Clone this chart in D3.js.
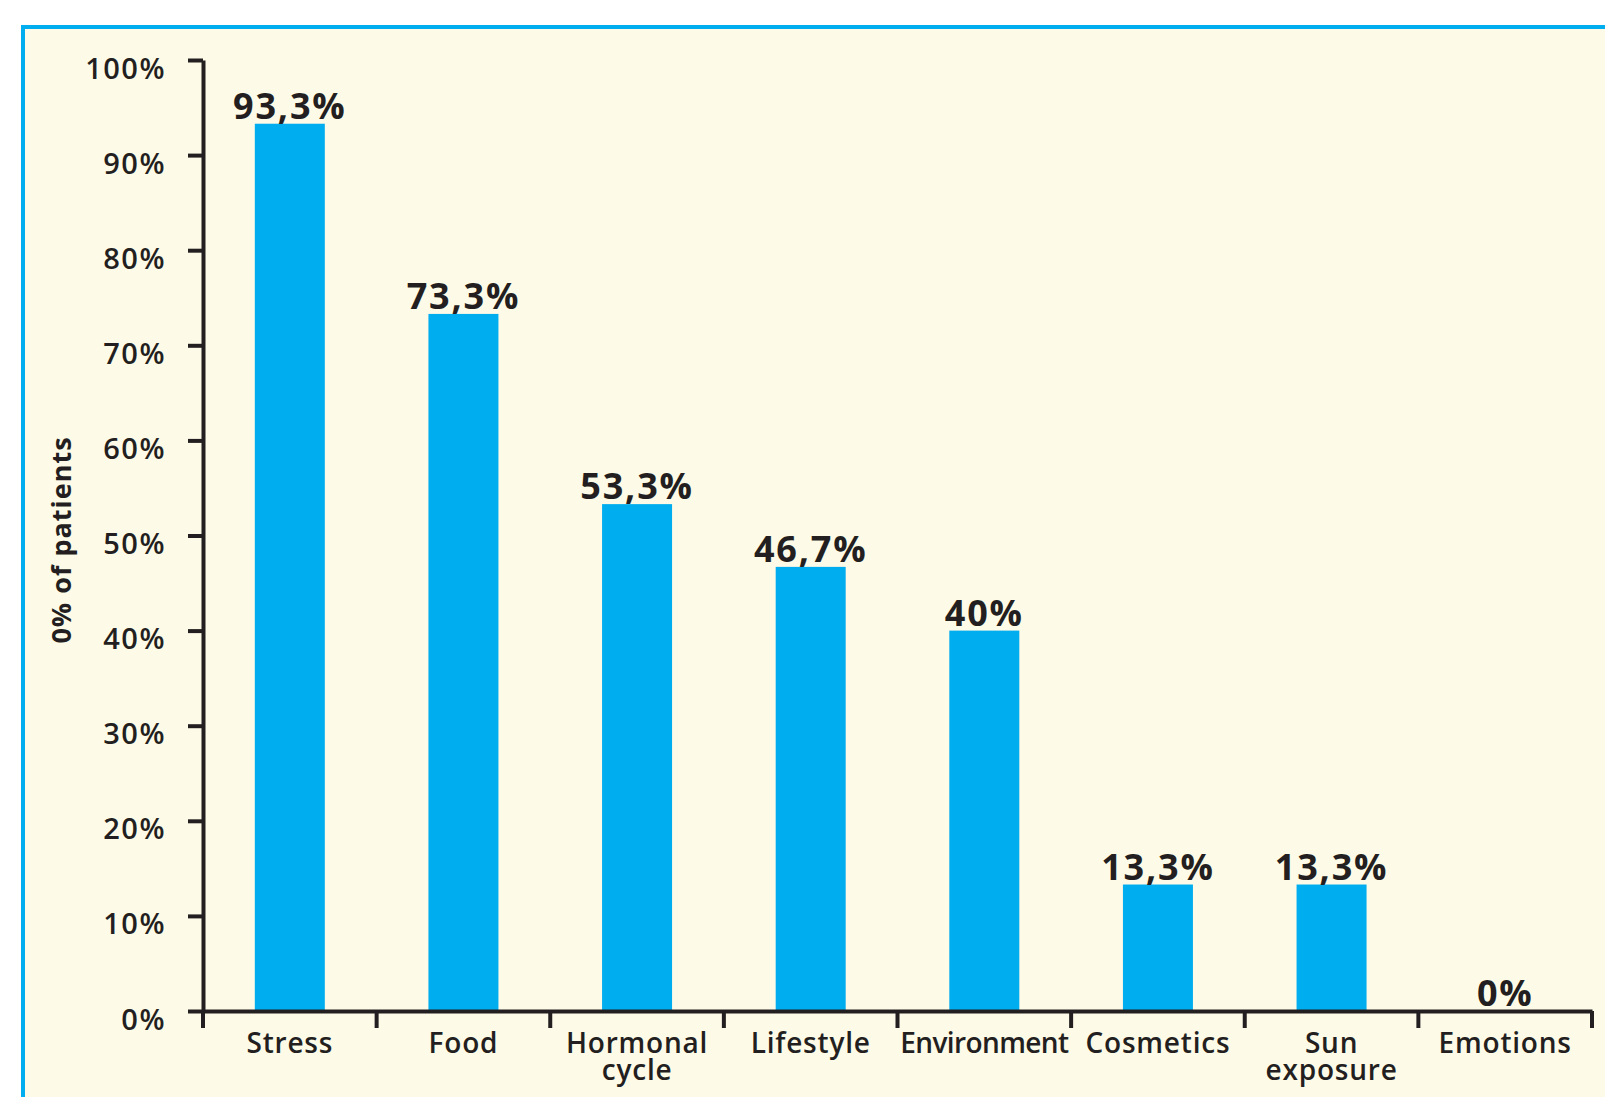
<!DOCTYPE html>
<html>
<head>
<meta charset="utf-8">
<script src="https://cdn.jsdelivr.net/npm/d3@7"></script>
<style>
  html, body { margin: 0; padding: 0; background: #ffffff; }
  svg { display: block; }
  text { font-family: "Open Sans", "Noto Sans", sans-serif; fill: #231f20; }
</style>
</head>
<body>
<script>
// Reported triggers, share of patients (%)
const categories = ["Stress", "Food", "Hormonal cycle", "Lifestyle", "Environment", "Cosmetics", "Sun exposure", "Emotions"];
const categoryLines = [["Stress"], ["Food"], ["Hormonal", "cycle"], ["Lifestyle"], ["Environment"], ["Cosmetics"], ["Sun", "exposure"], ["Emotions"]];
const values = [93.3, 73.3, 53.3, 46.7, 40, 13.3, 13.3, 0];
const valueLabels = ["93,3%", "73,3%", "53,3%", "46,7%", "40%", "13,3%", "13,3%", "0%"];
const yTicks = [0, 10, 20, 30, 40, 50, 60, 70, 80, 90, 100];
const yTitle = "0% of patients";

const W = 1605, H = 1097;
const x0 = 203, x1 = 1592, yTop = 60, yBase = 1011;
const ink = "#231f20", cyan = "#00adee", cream = "#fefae8";

const svg = d3.select("body").append("svg").attr("width", W).attr("height", H);

// framed panel
svg.append("rect").attr("x", 23).attr("y", 27).attr("width", W + 20).attr("height", H + 20)
  .attr("fill", cream).attr("stroke", cyan).attr("stroke-width", 4);

const x = d3.scaleBand().domain(categories).range([x0, x1]).padding(0);
const y = d3.scaleLinear().domain([0, 100]).range([yBase, yTop]);
const barW = 70;

// bars
svg.append("g").selectAll("rect").data(values).join("rect")
  .attr("x", (d, i) => x(categories[i]) + x.bandwidth() / 2 - barW / 2)
  .attr("y", d => y(d))
  .attr("width", barW)
  .attr("height", d => y(0) - y(d))
  .attr("fill", cyan);

// y axis
const yAxis = svg.append("g").attr("transform", `translate(${x0},0)`)
  .call(d3.axisLeft(y).tickValues(yTicks).tickSize(15).tickSizeOuter(0).tickFormat(d => d + "%"));
yAxis.select(".domain").attr("stroke", ink).attr("stroke-width", 4);
yAxis.selectAll(".tick line").attr("stroke", ink).attr("stroke-width", 4);
yAxis.selectAll(".tick text")
  .attr("x", -37).attr("dy", null).attr("y", 18)
  .attr("font-size", 29).attr("font-weight", 600).attr("letter-spacing", 1.5)
  .style("font-family", "'Open Sans', sans-serif").attr("fill", ink);

// x axis
const xAxis = svg.append("g").attr("transform", `translate(0,${yBase})`)
  .call(d3.axisBottom(x).tickSize(0).tickFormat(""));
xAxis.select(".domain").attr("stroke", ink).attr("stroke-width", 4);
xAxis.selectAll(".tick").remove();
const bounds = categories.map(c => x(c)).concat([x1]);
xAxis.selectAll("line.sep").data(bounds).join("line").attr("class", "sep")
  .attr("x1", d => d).attr("x2", d => d).attr("y1", 0).attr("y2", 17)
  .attr("stroke", ink).attr("stroke-width", 4);

// category labels
const cat = svg.append("g").selectAll("text").data(categoryLines).join("text")
  .attr("text-anchor", "middle")
  .attr("font-size", 28).attr("font-weight", 600)
  .attr("letter-spacing", (d, i) => categories[i] === "Environment" ? -0.6 : 0.8);
cat.selectAll("tspan").data((d, i) => d.map(t => ({t, i}))).join("tspan")
  .attr("x", d => x(categories[d.i]) + x.bandwidth() / 2)
  .attr("y", (d, j) => 1053 + j * 27)
  .text(d => d.t);

// value labels
svg.append("g").selectAll("text").data(values).join("text")
  .attr("x", (d, i) => x(categories[i]) + x.bandwidth() / 2)
  .attr("y", d => y(d) - 5)
  .attr("text-anchor", "middle")
  .attr("font-size", 36).attr("font-weight", 700).attr("letter-spacing", 1.8)
  .text((d, i) => valueLabels[i]);

// axis title
svg.append("text")
  .attr("transform", "translate(71,540) rotate(-90)")
  .attr("text-anchor", "middle")
  .attr("font-size", 27).attr("font-weight", 700).attr("letter-spacing", 1)
  .text(yTitle);
</script>
</body>
</html>
